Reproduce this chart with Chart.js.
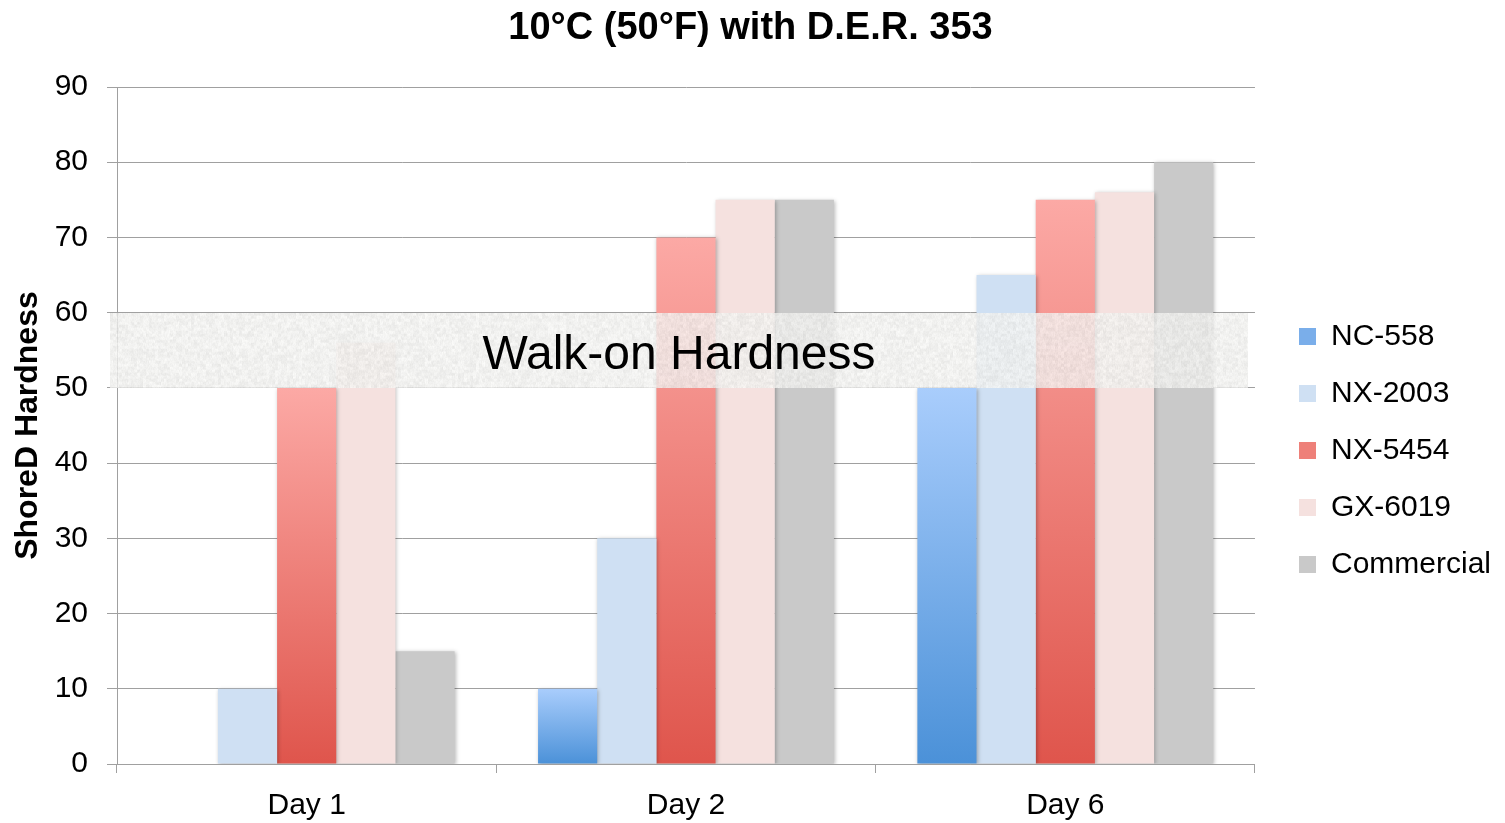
<!DOCTYPE html>
<html>
<head>
<meta charset="utf-8">
<script src="https://cdn.jsdelivr.net/npm/chart.js@4/dist/chart.umd.min.js"></script>
<style>
  html, body { margin: 0; padding: 0; background: #fff; }
  #wrap { width: 1505px; height: 823px; }
</style>
</head>
<body>
<div id="wrap"><canvas id="chart"></canvas></div>
<script>
const days = ['Day 1', 'Day 2', 'Day 6'];
const yTicks = [0, 10, 20, 30, 40, 50, 60, 70, 80, 90];

const nc558 = [null, 10, 50];
const nx2003 = [10, 30, 65];
const nx5454 = [50, 70, 75];
const gx6019 = [56, 75, 76];
const commercial = [15, 75, 80];

// walk-on band, in hardness units
const walkOn = [50, 60];

const FONT = 'Liberation Sans, Arial, Helvetica, sans-serif';

// vertical gradient over one bar (light top -> dark bottom)
function barGradient(top, bottom) {
  return function (ctx) {
    if (ctx.type !== 'data') return bottom;
    const chart = ctx.chart;
    const y = chart.scales.y;
    if (!y || ctx.raw == null) return bottom;
    const y0 = y.getPixelForValue(ctx.raw);
    const y1 = y.getPixelForValue(0);
    if (!isFinite(y0) || !isFinite(y1) || y0 === y1) return bottom;
    const g = chart.ctx.createLinearGradient(0, y0, 0, y1);
    g.addColorStop(0, top);
    g.addColorStop(1, bottom);
    return g;
  };
}

// grainy texture for the band, deterministic hash noise
function makeTexture(w, h) {
  const c = document.createElement('canvas');
  c.width = w; c.height = h;
  const g = c.getContext('2d');
  const img = g.createImageData(w, h);
  const hash = (x, y) => {
    const s = Math.sin(x * 12.9898 + y * 78.233) * 43758.5453;
    return s - Math.floor(s);
  };
  for (let y = 0; y < h; y++) {
    for (let x = 0; x < w; x++) {
      const n = (hash(x, y) + hash(Math.floor(x / 3), Math.floor(y / 3)) * 1.2) / 2.2;
      const v = Math.round(225 + n * 27);
      const i = (y * w + x) * 4;
      img.data[i] = v; img.data[i + 1] = v; img.data[i + 2] = v - 2; img.data[i + 3] = 255;
    }
  }
  g.putImageData(img, 0, 0);
  return c;
}

const shadowPlugin = {
  id: 'barShadow',
  beforeDatasetsDraw(chart) {
    const c = chart.ctx;
    c.save();
    c.shadowColor = 'rgba(0,0,0,0.28)';
    c.shadowBlur = 4;
    c.shadowOffsetX = 1;
    c.shadowOffsetY = 1;
  },
  afterDatasetsDraw(chart) {
    chart.ctx.restore();
  }
};

let texture = null;
const bandPlugin = {
  id: 'walkOnBand',
  afterDatasetsDraw(chart) {
    const { ctx, chartArea, scales } = chart;
    const yTop = scales.y.getPixelForValue(walkOn[1]);
    const yBot = scales.y.getPixelForValue(walkOn[0]);
    const x0 = chartArea.left - 7;
    const x1 = chartArea.right - 7;
    const w = Math.round(x1 - x0), h = Math.round(yBot - yTop);
    if (!texture || texture.width !== w || texture.height !== h) texture = makeTexture(w, h);
    ctx.save();
    ctx.globalAlpha = 0.82;
    ctx.drawImage(texture, x0, yTop);
    ctx.globalAlpha = 1;
    ctx.fillStyle = '#000';
    ctx.font = '48px ' + FONT;
    ctx.textAlign = 'center';
    ctx.textBaseline = 'middle';
    ctx.fillText('Walk-on Hardness', (x0 + x1) / 2, (yTop + yBot) / 2 + 5);
    ctx.restore();
  }
};

new Chart(document.getElementById('chart'), {
  type: 'bar',
  data: {
    labels: days,
    datasets: [
      { label: 'NC-558', data: nc558, backgroundColor: barGradient('#a9cdfc', '#4b91d8') },
      { label: 'NX-2003', data: nx2003, backgroundColor: '#cfe0f3' },
      { label: 'NX-5454', data: nx5454, backgroundColor: barGradient('#fca9a5', '#df554c') },
      { label: 'GX-6019', data: gx6019, backgroundColor: '#f5e1df' },
      { label: 'Commercial', data: commercial, backgroundColor: '#c9c9c9' },
    ],
  },
  options: {
    responsive: true,
    maintainAspectRatio: false,
    animation: false,
    layout: { padding: { left: 0, right: 4, top: 0, bottom: 0 } },
    datasets: { bar: { categoryPercentage: 0.78, barPercentage: 1.0, borderWidth: 0 } },
    plugins: {
      title: {
        display: true,
        text: '10°C (50°F) with D.E.R. 353',
        color: '#000',
        font: { family: FONT, size: 38, weight: 'bold' },
        padding: { top: 6, bottom: 35.4 },
      },
      legend: {
        position: 'right',
        // empty title only used to push the items down
        title: { display: true, text: ' ', font: { size: 10 }, padding: { top: 66, bottom: 0 } },
        labels: {
          color: '#000',
          font: { family: FONT, size: 30 },
          boxWidth: 17,
          boxHeight: 17,
          padding: 27,
          generateLabels(chart) {
            const flat = ['#7aaeea', '#cfe0f3', '#ee8079', '#f5e1df', '#c9c9c9'];
            return chart.data.datasets.map((d, i) => ({
              text: d.label,
              fillStyle: flat[i],
              strokeStyle: flat[i],
              lineWidth: 0,
              fontColor: '#000',
              datasetIndex: i,
              hidden: false,
            }));
          },
        },
      },
      tooltip: { enabled: false },
    },
    scales: {
      x: {
        offset: true,
        grid: { offset: true, drawOnChartArea: false, drawTicks: true, tickLength: 9, color: '#a0a0a0' },
        border: { display: true, color: '#a0a0a0', width: 1 },
        ticks: { color: '#000', font: { family: FONT, size: 30 }, padding: 15 },
        afterFit(scale) { scale.height = 59; },
      },
      y: {
        min: 0,
        max: 90,
        afterBuildTicks(scale) { scale.ticks = yTicks.map(v => ({ value: v })); },
        grid: { color: '#a0a0a0', tickLength: 10, lineWidth: 1 },
        border: { display: true, color: '#a0a0a0', width: 1 },
        ticks: { color: '#000', font: { family: FONT, size: 30 }, padding: 19 },
        title: {
          display: true,
          text: 'ShoreD Hardness',
          color: '#000',
          font: { family: FONT, size: 32, weight: 'bold' },
          padding: { top: 9, bottom: 0 },
        },
        afterFit(scale) { scale.width = 117; },
      },
      y2: {
        position: 'right',
        display: true,
        grid: { display: false },
        border: { display: false },
        ticks: { display: false },
        afterFit(scale) { scale.width = 17; },
      },
    },
  },
  plugins: [shadowPlugin, bandPlugin],
});
</script>
</body>
</html>
